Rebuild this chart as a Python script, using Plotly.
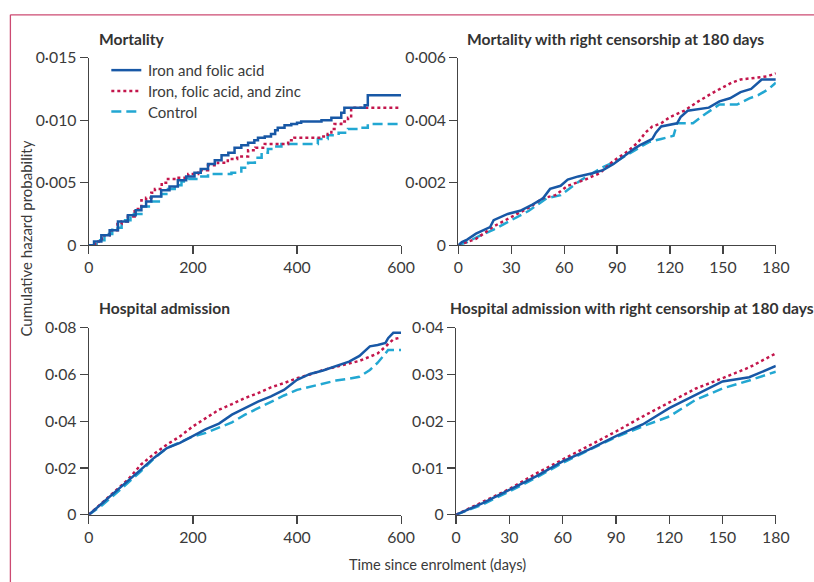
import plotly.graph_objects as go

# ---------------- data ----------------
series_names = ["Iron and folic acid", "Iron, folic acid, and zinc", "Control"]

# Panel A: Mortality (0-600 days)
mort_ifa_days = [0, 10, 24, 40, 56, 75, 90, 101, 110, 120, 139, 155, 171, 187, 203, 215, 229, 242, 255, 268, 280, 293,
                 306, 318, 325, 338, 350, 358, 363, 376, 389, 400, 408, 430, 447, 466, 480, 485, 491, 512, 530, 536, 600]
mort_ifa_vals = [0, 0.0003, 0.0008, 0.0012, 0.0019, 0.0024, 0.0028, 0.0031, 0.0035, 0.0039, 0.0044, 0.0047, 0.0052,
                 0.0055, 0.0058, 0.0061, 0.0065, 0.0068, 0.0072, 0.0074, 0.0078, 0.0080, 0.0082, 0.0084, 0.0086,
                 0.0087, 0.0089, 0.0092, 0.0094, 0.0096, 0.0097, 0.0098, 0.0099, 0.0099, 0.0100, 0.0102, 0.0102,
                 0.0106, 0.0110, 0.0110, 0.0112, 0.0120, 0.0120]
mort_zinc_days = [0, 12, 25, 40, 55, 63, 75, 88, 101, 110, 120, 127, 140, 152, 170, 191, 210, 229, 248, 267, 285, 306,
                  320, 338, 360, 383, 395, 420, 445, 459, 466, 472, 485, 498, 504, 600]
mort_zinc_vals = [0, 0.0003, 0.0008, 0.0012, 0.0017, 0.0019, 0.0023, 0.0029, 0.0036, 0.0038, 0.0042, 0.0045, 0.0050,
                  0.0053, 0.0054, 0.0057, 0.0060, 0.0064, 0.0066, 0.0069, 0.0071, 0.0076, 0.0078, 0.0081, 0.0081,
                  0.0084, 0.0086, 0.0086, 0.0087, 0.0089, 0.0093, 0.0097, 0.0099, 0.0102, 0.0110, 0.0110]
mort_ctrl_days = [0, 15, 30, 45, 63, 80, 101, 120, 139, 152, 165, 178, 191, 210, 229, 250, 274, 293, 306, 319, 332,
                  344, 357, 370, 400, 421, 440, 459, 480, 498, 520, 536, 600]
mort_ctrl_vals = [0, 0.0004, 0.0009, 0.0014, 0.0020, 0.0025, 0.0031, 0.0035, 0.0041, 0.0045, 0.0048, 0.0051, 0.0053,
                  0.0055, 0.0057, 0.0057, 0.0058, 0.0062, 0.0066, 0.0070, 0.0074, 0.0077, 0.0079, 0.0081, 0.0081,
                  0.0081, 0.0085, 0.0088, 0.0090, 0.0093, 0.0094, 0.0097, 0.0098]

# Panel B: Mortality censored at 180 days
m180_ifa_days = [0, 2, 5, 10, 18, 20, 28, 35, 42, 48, 52, 58, 62, 68, 76, 82, 88, 95, 100, 103, 110, 112, 115, 124,
                 126, 130, 142, 148, 154, 160, 166, 172, 180]
m180_ifa_vals = [0, 0.0001, 0.00018, 0.00037, 0.00058, 0.0008, 0.0010, 0.0011, 0.0013, 0.0015, 0.0018, 0.0019,
                 0.0021, 0.0022, 0.0023, 0.0024, 0.0026, 0.0029, 0.0031, 0.0032, 0.0034, 0.0036, 0.0038, 0.0039,
                 0.0041, 0.0043, 0.0044, 0.0046, 0.0047, 0.0049, 0.0050, 0.0053, 0.0053]
m180_zinc_days = [0, 5, 10, 20, 30, 40, 48, 55, 62, 72, 80, 88, 96, 102, 106, 110, 115, 120, 128, 136, 145, 155, 160,
                  175, 180]
m180_zinc_vals = [0, 0.0001, 0.0002, 0.0006, 0.0009, 0.0012, 0.0015, 0.0016, 0.0019, 0.0021, 0.0023, 0.0027, 0.0030,
                  0.0033, 0.0036, 0.0038, 0.0039, 0.0041, 0.0043, 0.0046, 0.0049, 0.0052, 0.0053, 0.0054, 0.0055]
m180_ctrl_days = [0, 5, 12, 20, 30, 40, 50, 58, 65, 70, 76, 82, 90, 96, 102, 108, 115, 122, 124, 133, 140, 148, 158,
                  165, 170, 176, 180]
m180_ctrl_vals = [0, 0.0001, 0.0003, 0.0005, 0.0008, 0.0011, 0.0015, 0.0016, 0.0019, 0.0021, 0.0023, 0.0025, 0.0027,
                  0.0029, 0.0031, 0.0033, 0.0034, 0.0035, 0.0039, 0.0039, 0.0042, 0.0045, 0.0045, 0.0047, 0.0048,
                  0.0050, 0.0052]

# Panel C: Hospital admission (0-600 days)
hosp_days = [0, 25, 50, 75, 100, 125, 150, 175, 200, 225, 250, 275, 300, 325, 350, 375, 400, 425, 450, 475, 500, 520,
             540, 555, 570, 575, 585, 600]
hosp_ifa_vals = [0, 0.0048, 0.0094, 0.0143, 0.0193, 0.0243, 0.0285, 0.0307, 0.0338, 0.0366, 0.0390, 0.0428, 0.0456,
                 0.0484, 0.0506, 0.0534, 0.0577, 0.0602, 0.0617, 0.0636, 0.0655, 0.0679, 0.0720, 0.0726, 0.0735,
                 0.0755, 0.0778, 0.0778]
hosp_zinc_vals = [0, 0.0050, 0.0101, 0.0150, 0.0214, 0.0260, 0.0300, 0.0335, 0.0378, 0.0415, 0.0449, 0.0473, 0.0499,
                  0.0520, 0.0545, 0.0563, 0.0584, 0.0600, 0.0619, 0.0633, 0.0648, 0.0658, 0.0676, 0.0690, 0.0719,
                  0.0730, 0.0750, 0.0758]
hosp_ctrl_vals = [0, 0.0040, 0.0087, 0.0135, 0.0186, 0.0240, 0.0285, 0.0310, 0.0335, 0.0350, 0.0371, 0.0395, 0.0428,
                  0.0455, 0.0484, 0.0510, 0.0534, 0.0548, 0.0562, 0.0574, 0.0582, 0.0590, 0.0619, 0.0650, 0.0690,
                  0.0705, 0.0705, 0.0705]

# Panel D: Hospital admission censored at 180 days
h180_days = [0, 15, 30, 45, 60, 75, 90, 105, 120, 135, 150, 165, 180]
h180_ifa_vals = [0, 0.0025, 0.0053, 0.0082, 0.0114, 0.0140, 0.0168, 0.0193, 0.0228, 0.0256, 0.0285, 0.0294, 0.0318]
h180_zinc_vals = [0, 0.0027, 0.0055, 0.0088, 0.0118, 0.0148, 0.0178, 0.0210, 0.0240, 0.0270, 0.0292, 0.0315, 0.0345]
h180_ctrl_vals = [0, 0.0022, 0.0050, 0.0079, 0.0111, 0.0138, 0.0166, 0.0189, 0.0210, 0.0246, 0.0270, 0.0287, 0.0306]

# tick labels
x600_ticks = [0, 200, 400, 600]
x180_ticks = [0, 30, 60, 90, 120, 150, 180]
yA_ticks = [0, 0.005, 0.010, 0.015]
yA_labels = ["0", "0·005", "0·010", "0·015"]
yB_ticks = [0, 0.002, 0.004, 0.006]
yB_labels = ["0", "0·002", "0·004", "0·006"]
yC_ticks = [0, 0.02, 0.04, 0.06, 0.08]
yC_labels = ["0", "0·02", "0·04", "0·06", "0·08"]
yD_ticks = [0, 0.01, 0.02, 0.03, 0.04]
yD_labels = ["0", "0·01", "0·02", "0·03", "0·04"]

panel_titles = ["Mortality", "Mortality with right censorship at 180 days", "Hospital admission",
                "Hospital admission with right censorship at 180 days"]

# ---------------- style / layout helpers ----------------
W, H = 836, 602            # page size of the figure
SX, BX, SY, BY = 0.978, 3.6, 0.971, 9.2   # page -> picture mapping compensation

def fx(x):
    return ((x - BX) / SX) / W

def fy(y):
    return 1 - ((y - BY) / SY) / H

FONT = "Lato"
TXT = "#3a3a3a"
colors = ["#1858a6", "#c3164c", "#22a7d2"]
dashes = ["solid", "dot", "10px,5px"]
LW = 2.5

fig = go.Figure()

panels = [
    (1, [(mort_ifa_days, mort_ifa_vals), (mort_zinc_days, mort_zinc_vals), (mort_ctrl_days, mort_ctrl_vals)], "hv"),
    (2, [(m180_ifa_days, m180_ifa_vals), (m180_zinc_days, m180_zinc_vals), (m180_ctrl_days, m180_ctrl_vals)], "linear"),
    (3, [(hosp_days, hosp_ifa_vals), (hosp_days, hosp_zinc_vals), (hosp_days, hosp_ctrl_vals)], "linear"),
    (4, [(h180_days, h180_ifa_vals), (h180_days, h180_zinc_vals), (h180_days, h180_ctrl_vals)], "linear"),
]

for idx, series, shape in panels:
    ax = "" if idx == 1 else str(idx)
    for k in [2, 1, 0]:
        xs, ys = series[k]
        fig.add_trace(go.Scatter(
            x=xs, y=ys, mode="lines", name=series_names[k],
            line=dict(color=colors[k], dash=dashes[k], width=LW, shape=shape),
            xaxis="x" + ax, yaxis="y" + ax, showlegend=False, hoverinfo="skip",
        ))

axis_common = dict(showline=True, linecolor="#444", linewidth=1.2, ticks="outside", ticklen=8, tickwidth=1.2,
                   tickcolor="#444", showgrid=False, zeroline=False,
                   tickfont=dict(family=FONT, size=15.8, color=TXT), fixedrange=True)

xdomL = [fx(87.5), fx(400)]
xdomR2 = [fx(457.3), fx(775)]
xdomR4 = [fx(455), fx(775)]
ydomT = [fy(245), fy(57)]
ydomB = [fy(515.3), fy(327.7)]

fig.update_layout(
    width=W, height=H,
    margin=dict(l=0, r=0, t=0, b=0),
    paper_bgcolor="white", plot_bgcolor="white",
    font=dict(family=FONT, color=TXT),
    showlegend=False,
    xaxis=dict(domain=xdomL, anchor="y", range=[0, 600], tickvals=x600_ticks, **axis_common),
    yaxis=dict(domain=ydomT, anchor="x", range=[0, 0.015], tickvals=yA_ticks, ticktext=yA_labels, **axis_common),
    xaxis2=dict(domain=xdomR2, anchor="y2", range=[0, 180], tickvals=x180_ticks, **axis_common),
    yaxis2=dict(domain=ydomT, anchor="x2", range=[0, 0.006], tickvals=yB_ticks, ticktext=yB_labels, **axis_common),
    xaxis3=dict(domain=xdomL, anchor="y3", range=[0, 600], tickvals=x600_ticks, **axis_common),
    yaxis3=dict(domain=ydomB, anchor="x3", range=[0, 0.08], tickvals=yC_ticks, ticktext=yC_labels, **axis_common),
    xaxis4=dict(domain=xdomR4, anchor="y4", range=[0, 180], tickvals=x180_ticks, **axis_common),
    yaxis4=dict(domain=ydomB, anchor="x4", range=[0, 0.04], tickvals=yD_ticks, ticktext=yD_labels, **axis_common),
)

# panel titles
title_font = dict(family=FONT, size=15.6, color="#333", weight="bold")
annos = [
    dict(text=panel_titles[0], x=fx(96), y=fy(38), xanchor="left", yanchor="middle"),
    dict(text=panel_titles[1], x=fx(615), y=fy(38), xanchor="center", yanchor="middle"),
    dict(text=panel_titles[2], x=fx(96), y=fy(308), xanchor="left", yanchor="middle"),
    dict(text=panel_titles[3], x=fx(447), y=fy(308), xanchor="left", yanchor="middle"),
]
for a in annos:
    fig.add_annotation(xref="paper", yref="paper", showarrow=False, font=title_font, **a)

# axis titles
fig.add_annotation(xref="paper", yref="paper", showarrow=False, text="Cumulative hazard probability",
                   x=fx(25), y=fy(238), textangle=-90, xanchor="center", yanchor="middle",
                   font=dict(family=FONT, size=15, color=TXT))
fig.add_annotation(xref="paper", yref="paper", showarrow=False, text="Time since enrolment (days)",
                   x=fx(436), y=fy(565), xanchor="center", yanchor="middle",
                   font=dict(family=FONT, size=14.6, color=TXT))

# legend (drawn manually inside Mortality panel)
legend_rows_y = [69.5, 90.5, 111]
for k in range(3):
    yy = fy(legend_rows_y[k])
    fig.add_shape(type="line", xref="paper", yref="paper", x0=fx(110), x1=fx(140), y0=yy, y1=yy,
                  line=dict(color=colors[k], dash=dashes[k], width=LW))
    fig.add_annotation(xref="paper", yref="paper", showarrow=False, text=series_names[k],
                       x=fx(145), y=yy, xanchor="left", yanchor="middle",
                       font=dict(family=FONT, size=15, color=TXT))

# pink frame (top and left rules)
frame_col = "#cc4a72"
fig.add_shape(type="line", xref="paper", yref="paper", x0=fx(9), x1=1, y0=fy(14), y1=fy(14),
              line=dict(color=frame_col, width=1.3))
fig.add_shape(type="line", xref="paper", yref="paper", x0=fx(9), x1=fx(9), y0=fy(14), y1=0,
              line=dict(color=frame_col, width=1.3))

fig.write_html("out.html", config={"displayModeBar": False, "staticPlot": True},
               post_script="document.body.style.margin='0';document.body.style.overflow='hidden';")
